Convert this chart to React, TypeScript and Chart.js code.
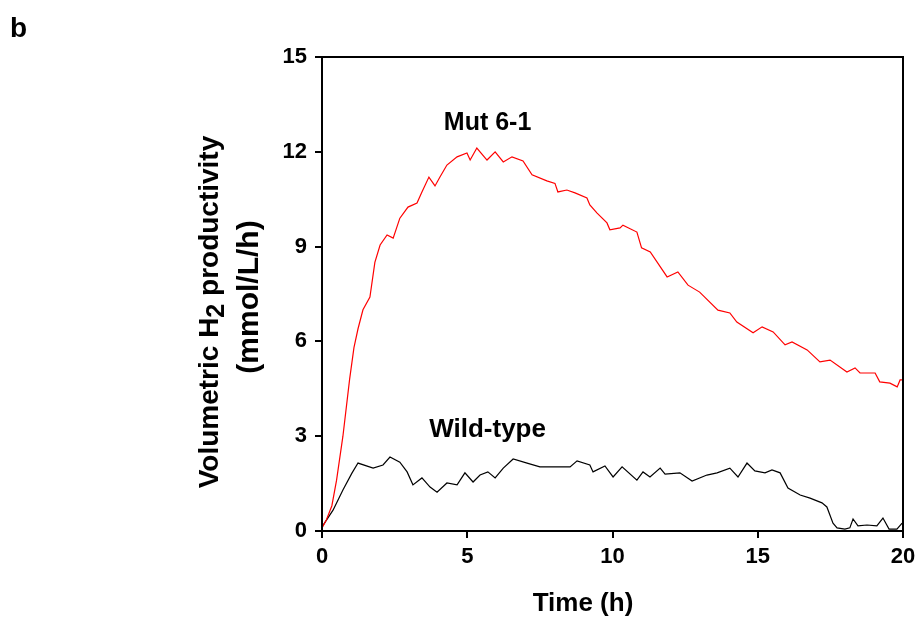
import React, { useEffect, useRef } from "react";
import { Chart, registerables } from "chart.js";

Chart.register(...registerables);

const mutTime = [0, 0.15, 0.34, 0.5, 0.72, 0.95, 1.1, 1.24, 1.41, 1.65, 1.82, 2.0, 2.24, 2.45, 2.68, 2.96, 3.27, 3.44, 3.68, 3.89, 4.06, 4.3, 4.65, 4.99, 5.1, 5.33, 5.68, 5.96, 6.24, 6.54, 6.92, 7.23, 7.74, 8.02, 8.12, 8.43, 8.71, 9.12, 9.22, 9.47, 9.81, 9.91, 10.26, 10.36, 10.84, 11.0, 11.3, 11.88, 12.25, 12.6, 13.0, 13.63, 14.04, 14.28, 14.84, 15.15, 15.53, 15.94, 16.18, 16.7, 17.14, 17.49, 18.07, 18.35, 18.52, 19.04, 19.2, 19.55, 19.8, 19.9, 20.0];
const mutValue = [0.1, 0.35, 0.8, 1.6, 3.0, 4.8, 5.8, 6.4, 7.0, 7.4, 8.5, 9.05, 9.37, 9.27, 9.9, 10.25, 10.38, 10.73, 11.2, 10.92, 11.2, 11.58, 11.84, 11.96, 11.74, 12.12, 11.74, 12.0, 11.68, 11.84, 11.71, 11.27, 11.08, 11.0, 10.73, 10.79, 10.7, 10.54, 10.32, 10.06, 9.75, 9.53, 9.59, 9.68, 9.46, 8.96, 8.83, 8.04, 8.2, 7.78, 7.56, 6.99, 6.9, 6.61, 6.27, 6.46, 6.3, 5.89, 5.98, 5.73, 5.35, 5.41, 5.03, 5.16, 5.0, 5.0, 4.72, 4.68, 4.56, 4.78, 4.78];

const wildTime = [0, 0.38, 0.72, 1.03, 1.24, 1.76, 2.1, 2.34, 2.68, 2.93, 3.13, 3.44, 3.72, 3.96, 4.3, 4.65, 4.92, 5.2, 5.44, 5.71, 5.96, 6.24, 6.58, 7.06, 7.5, 7.95, 8.54, 8.78, 9.22, 9.33, 9.74, 10.02, 10.33, 10.84, 11.05, 11.29, 11.64, 11.81, 12.32, 12.74, 13.25, 13.6, 14.04, 14.32, 14.63, 14.9, 15.25, 15.49, 15.77, 16.04, 16.46, 16.8, 17.21, 17.38, 17.59, 17.73, 18.0, 18.17, 18.28, 18.45, 18.76, 19.1, 19.31, 19.52, 19.79, 19.97];
const wildValue = [0.13, 0.66, 1.3, 1.83, 2.15, 1.99, 2.09, 2.34, 2.18, 1.87, 1.46, 1.68, 1.39, 1.23, 1.52, 1.46, 1.84, 1.55, 1.77, 1.87, 1.68, 1.99, 2.28, 2.15, 2.03, 2.03, 2.03, 2.22, 2.09, 1.87, 2.06, 1.71, 2.03, 1.61, 1.87, 1.71, 1.99, 1.8, 1.84, 1.58, 1.77, 1.84, 1.99, 1.71, 2.15, 1.9, 1.84, 1.93, 1.84, 1.36, 1.14, 1.04, 0.89, 0.76, 0.25, 0.1, 0.06, 0.1, 0.38, 0.16, 0.19, 0.16, 0.41, 0.06, 0.06, 0.25];

const xTicks = [0, 5, 10, 15, 20];
const yTicks = [0, 3, 6, 9, 12, 15];

const panelLabel = "b";
const mutLabel = "Mut 6-1";
const wildLabel = "Wild-type";
const xTitle = "Time (h)";
const yTitleParts = ["Volumetric H", "2", " productivity"];
const yTitle2 = "(mmol/L/h)";

const FONT = '"Liberation Sans", Arial, sans-serif';

const textPlugin = {
  id: "annotText",
  afterDraw(chart: any) {
    const ctx = chart.ctx as CanvasRenderingContext2D;
    const area = chart.chartArea;
    const xs = chart.scales.x;
    const ys = chart.scales.y;
    ctx.save();
    // full frame
    ctx.strokeStyle = "#000";
    ctx.lineWidth = 2;
    ctx.strokeRect(area.left, area.top, area.right - area.left, area.bottom - area.top);

    ctx.fillStyle = "#000";
    ctx.textAlign = "center";
    ctx.textBaseline = "middle";
    ctx.font = `bold 25px ${FONT}`;
    ctx.fillText(mutLabel, xs.getPixelForValue(5.7), ys.getPixelForValue(12.9));
    ctx.font = `bold 26px ${FONT}`;
    ctx.fillText(wildLabel, xs.getPixelForValue(5.7), ys.getPixelForValue(3.19));

    ctx.textAlign = "left";
    ctx.textBaseline = "alphabetic";
    ctx.font = `bold 28px ${FONT}`;
    ctx.fillText(panelLabel, 10, 37);

    ctx.textAlign = "center";
    ctx.font = `bold 26px ${FONT}`;
    ctx.fillText(xTitle, 583, 611);

    // y title, rotated
    ctx.save();
    ctx.translate(218, 312);
    ctx.rotate(-Math.PI / 2);
    ctx.textAlign = "left";
    ctx.textBaseline = "alphabetic";
    const big = `bold 28px ${FONT}`;
    const sub = `bold 25px ${FONT}`;
    ctx.font = big;
    const w0 = ctx.measureText(yTitleParts[0]).width;
    const w2 = ctx.measureText(yTitleParts[2]).width;
    ctx.font = sub;
    const w1 = ctx.measureText(yTitleParts[1]).width;
    let x0 = -(w0 + w1 + w2) / 2;
    ctx.font = big;
    ctx.fillText(yTitleParts[0], x0, 0);
    ctx.font = sub;
    ctx.fillText(yTitleParts[1], x0 + w0, 6);
    ctx.font = big;
    ctx.fillText(yTitleParts[2], x0 + w0 + w1, 0);
    ctx.restore();

    ctx.save();
    ctx.translate(258, 297);
    ctx.rotate(-Math.PI / 2);
    ctx.textAlign = "center";
    ctx.textBaseline = "alphabetic";
    ctx.font = `bold 30px ${FONT}`;
    ctx.fillText(yTitle2, 0, 0);
    ctx.restore();

    ctx.restore();
  },
};

export default function App() {
  const ref = useRef<HTMLCanvasElement | null>(null);
  useEffect(() => {
    if (!ref.current) return;
    const tickFont = { family: FONT, size: 22, weight: "bold" as const };
    const chart = new Chart(ref.current, {
      type: "line",
      data: {
        datasets: [
          {
            label: mutLabel,
            data: mutTime.map((t, i) => ({ x: t, y: mutValue[i] })),
            borderColor: "#ff0000",
            borderWidth: 1.2,
            pointRadius: 0,
            tension: 0,
            fill: false,
          },
          {
            label: wildLabel,
            data: wildTime.map((t, i) => ({ x: t, y: wildValue[i] })),
            borderColor: "#000000",
            borderWidth: 1.2,
            pointRadius: 0,
            tension: 0,
            fill: false,
          },
        ],
      },
      options: {
        animation: false,
        responsive: false,
        layout: { padding: { top: 57, right: 16, left: 0, bottom: 0 } },
        plugins: { legend: { display: false }, tooltip: { enabled: false }, title: { display: false } },
        scales: {
          x: {
            type: "linear",
            min: 0,
            max: 20,
            afterBuildTicks: (s: any) => {
              s.ticks = xTicks.map((v) => ({ value: v }));
            },
            afterFit: (s: any) => {
              s.height = 86;
              s.paddingLeft = 0;
              s.paddingRight = 0;
            },
            ticks: { color: "#000", font: tickFont, padding: 6, maxRotation: 0 },
            grid: { drawOnChartArea: false, drawTicks: true, tickLength: 7, color: "#000", lineWidth: 2 },
            border: { display: true, color: "#000", width: 2 },
          },
          y: {
            type: "linear",
            min: 0,
            max: 15,
            afterBuildTicks: (s: any) => {
              s.ticks = yTicks.map((v) => ({ value: v }));
            },
            afterFit: (s: any) => {
              s.width = 322;
              s.paddingTop = 0;
              s.paddingBottom = 0;
            },
            ticks: { color: "#000", font: tickFont, padding: 8 },
            grid: { drawOnChartArea: false, drawTicks: true, tickLength: 7, color: "#000", lineWidth: 2 },
            border: { display: true, color: "#000", width: 2 },
          },
        },
      },
      plugins: [textPlugin],
    });
    return () => chart.destroy();
  }, []);
  return (
    <div style={{ position: "absolute", left: 0, top: 0, width: 919, height: 617, background: "#fff" }}>
      <canvas ref={ref} width={919} height={617} style={{ display: "block" }} />
    </div>
  );
}
